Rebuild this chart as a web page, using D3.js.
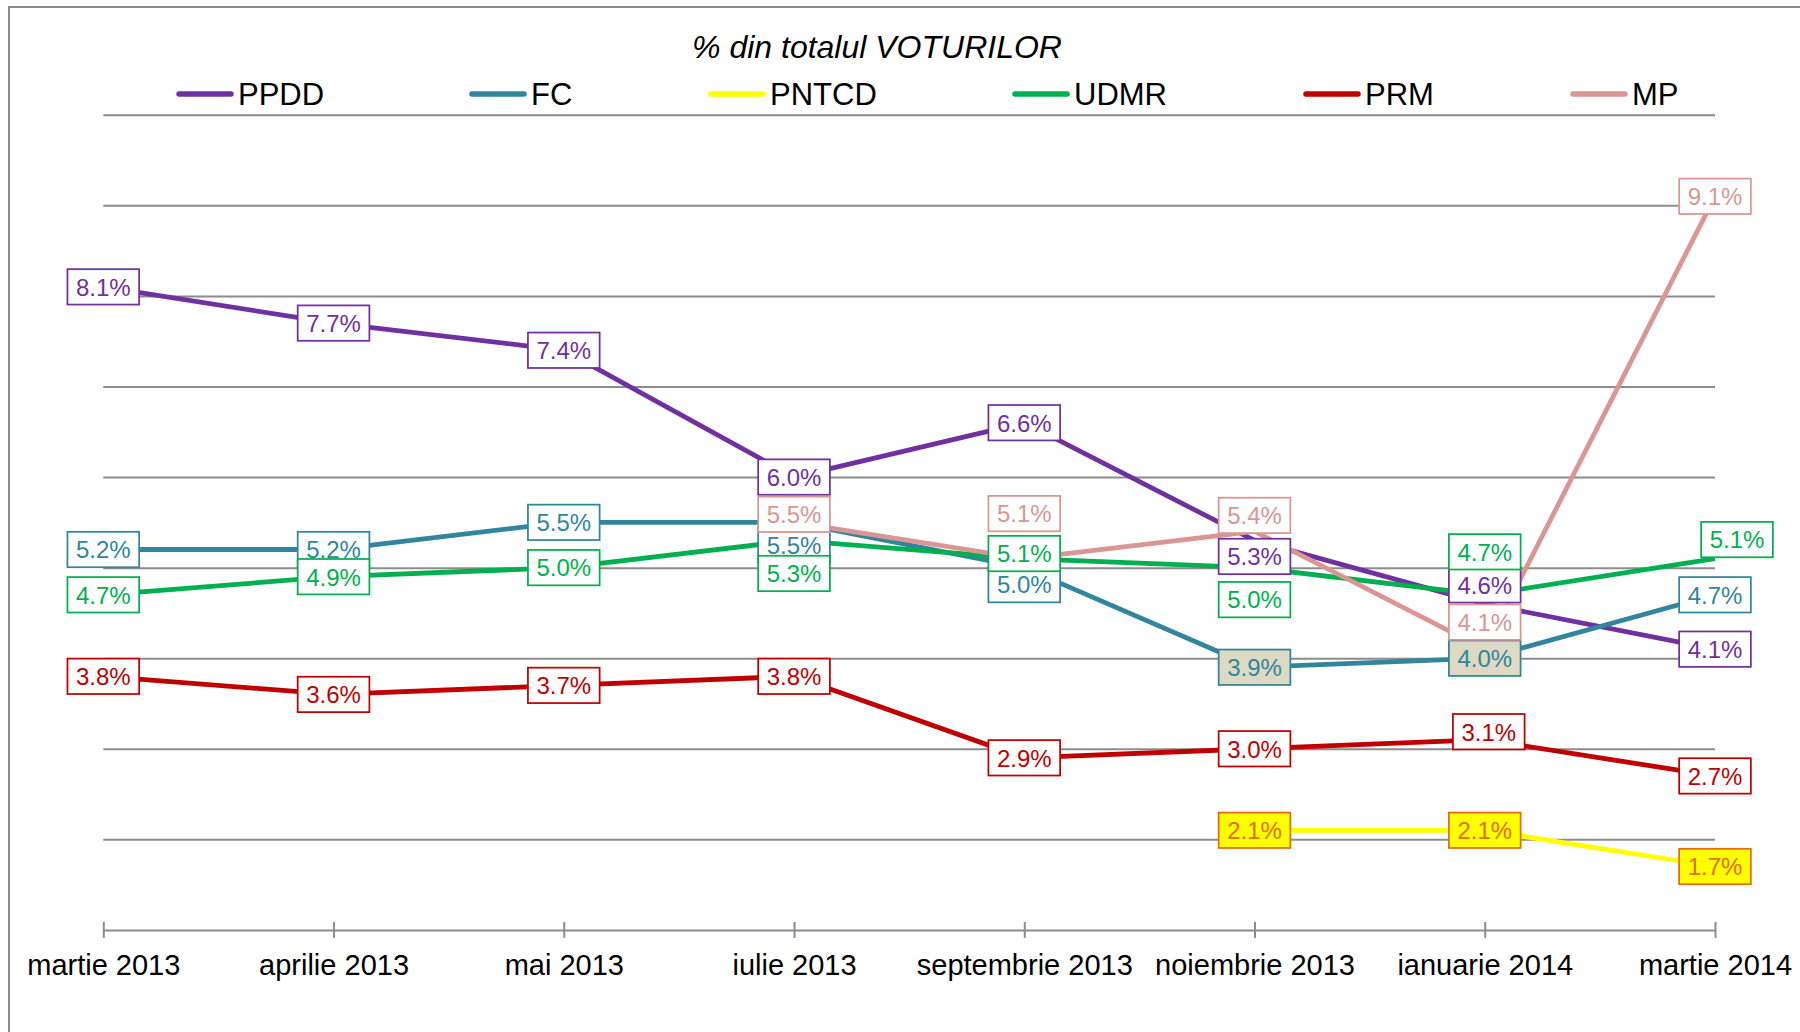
<!DOCTYPE html>
<html>
<head>
<meta charset="utf-8">
<script src="https://cdn.jsdelivr.net/npm/d3@7"></script>
<style>
  body { margin: 0; background: #fff; }
  svg { display: block; font-family: "Liberation Sans", Arial, sans-serif; }
</style>
</head>
<body>
<div id="chart"></div>
<script>
// data (% din totalul voturilor)
const categories = ["martie 2013", "aprilie 2013", "mai 2013", "iulie 2013",
  "septembrie 2013", "noiembrie 2013", "ianuarie 2014", "martie 2014"];
const ppdd  = [8.1, 7.7, 7.4, 6.0, 6.6, 5.3, 4.6, 4.1];
const fc    = [5.2, 5.2, 5.5, 5.5, 5.0, 3.9, 4.0, 4.7];
const pntcd = [null, null, null, null, null, 2.1, 2.1, 1.7];
const udmr  = [4.7, 4.9, 5.0, 5.3, 5.1, 5.0, 4.7, 5.1];
const prm   = [3.8, 3.6, 3.7, 3.8, 2.9, 3.0, 3.1, 2.7];
const mp    = [null, null, null, 5.5, 5.1, 5.4, 4.1, 9.1];
const seriesNames = ["PPDD", "FC", "PNTCD", "UDMR", "PRM", "MP"];
const yTicks = [2, 3, 4, 5, 6, 7, 8, 9, 10];

// styling / label placement (kept apart from the values)
const colors = ["#7030A0", "#31859C", "#FFFF00", "#00B050", "#C00000", "#D99694"];
const labelText = ["#7030A0", "#31859C", "#E46C0A", "#00B050", "#C00000", "#D99694"];
const labelStroke = ["#7030A0", "#31859C", "#E46C0A", "#00B050", "#C00000", "#D99694"];
const labelFill = [
  null,
  ["#fff", "#fff", "#fff", "#fff", "#fff", "#DDD9C3", "#DDD9C3", "#fff"],
  "#FFFF00", null, null, null
];
// label nudges in px: [dx, dy]
const nudges = [
  [[0,0],[0,0],[0,0],[0,0],[0,0],[0,16],[0,-19],[0,0]],
  [[0,0],[0,0],[0,0],[0,23],[0,17],[0,0],[0,0],[0,0]],
  [[0,0],[0,0],[0,0],[0,0],[0,0],[0,0],[0,0],[0,0]],
  [[0,0],[0,0],[0,0],[0,33],[0,-5],[0,32],[0,-43],[22,-19]],
  [[0,0],[0,0],[0,0],[0,0],[0,0],[0,0],[4,-8],[0,0]],
  [[0,0],[0,0],[0,0],[0,-8],[0,-45],[0,-16],[0,-27],[0,0]]
];
const legendX = [179, 472, 711, 1015, 1306, 1573];

const values = [ppdd, fc, pntcd, udmr, prm, mp];
const series = seriesNames.map((name, i) => ({
  name, i,
  pts: values[i].map((v, j) => ({ cat: categories[j], v, j }))
}));

const W = 1800, H = 1032;
const svg = d3.select("#chart").append("svg").attr("width", W).attr("height", H);

// outer frame
svg.append("rect")
  .attr("x", 9).attr("y", 7).attr("width", W + 20).attr("height", H + 20)
  .attr("fill", "none").attr("stroke", "#8c8c8c").attr("stroke-width", 2);

const x = d3.scalePoint().domain(categories).range([103.3, 1715]);
const y = d3.scaleLinear().domain([1, 10]).range([929.9, 114.8]);

// gridlines
svg.append("g")
  .attr("transform", `translate(${x.range()[0]},0)`)
  .call(d3.axisLeft(y).tickValues(yTicks).tickSize(-(x.range()[1] - x.range()[0])).tickFormat(""))
  .call(g => g.select(".domain").remove())
  .call(g => g.selectAll(".tick line").attr("stroke", "#8c8c8c").attr("stroke-width", 2));

// x axis
const xAxis = svg.append("g")
  .attr("transform", `translate(0,${y(1)})`)
  .call(d3.axisBottom(x).tickSize(0).tickPadding(0));
xAxis.select(".domain").attr("stroke", "#8c8c8c").attr("stroke-width", 2);
xAxis.selectAll(".tick line").remove();
xAxis.selectAll(".tick").append("line")
  .attr("y1", -8).attr("y2", 8).attr("stroke", "#8c8c8c").attr("stroke-width", 2);
xAxis.selectAll(".tick text")
  .attr("y", 45).attr("dy", 0)
  .attr("fill", "#000").attr("font-size", 29)
  .attr("font-family", "'Liberation Sans', Arial, sans-serif");

// lines
const line = d3.line()
  .defined(d => d.v !== null)
  .x(d => x(d.cat)).y(d => y(d.v));

svg.append("g").selectAll("path")
  .data(series).join("path")
  .attr("d", d => line(d.pts))
  .attr("fill", "none")
  .attr("stroke", d => colors[d.i])
  .attr("stroke-width", 4.8)
  .attr("stroke-linejoin", "round");

// data labels (drawn after all lines)
const labels = svg.append("g");
series.forEach(s => {
  s.pts.filter(p => p.v !== null).forEach(p => {
    const [dx, dy] = nudges[s.i][p.j];
    const cx = x(p.cat) + dx, cy = y(p.v) + dy;
    const g = labels.append("g").attr("transform", `translate(${cx},${cy})`);
    const fillSpec = labelFill[s.i];
    const fill = fillSpec === null ? "#fff" : (Array.isArray(fillSpec) ? fillSpec[p.j] : fillSpec);
    const rect = g.append("rect").attr("fill", fill)
      .attr("stroke", labelStroke[s.i]).attr("stroke-width", 1.75);
    const t = g.append("text")
      .attr("text-anchor", "middle").attr("y", 8.8)
      .attr("font-size", 24).attr("fill", labelText[s.i])
      .text(d3.format(".1f")(p.v) + "%");
    const w = t.node().getComputedTextLength() + 17;
    rect.attr("x", -w / 2).attr("y", -17.7).attr("width", w).attr("height", 35.4);
  });
});

// title
svg.append("text")
  .attr("x", 877).attr("y", 58)
  .attr("text-anchor", "middle")
  .attr("font-size", 32).attr("font-style", "italic")
  .text("% din totalul VOTURILOR");

// legend
const legend = svg.append("g").attr("transform", "translate(0,94)");
series.forEach(s => {
  const g = legend.append("g").attr("transform", `translate(${legendX[s.i]},0)`);
  g.append("line").attr("x1", 0).attr("x2", 52)
    .attr("stroke", colors[s.i]).attr("stroke-width", 5.5).attr("stroke-linecap", "round");
  g.append("text").attr("x", 59).attr("y", 11)
    .attr("font-size", 31).text(s.name);
});
</script>
</body>
</html>
